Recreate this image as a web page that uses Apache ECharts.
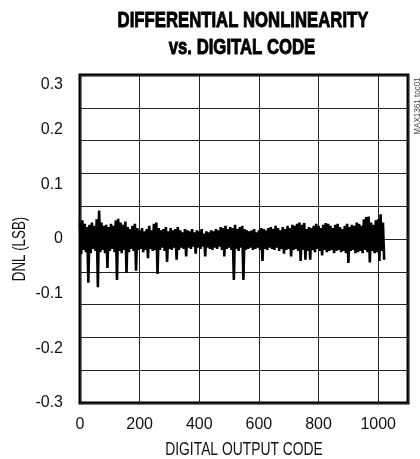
<!DOCTYPE html>
<html>
<head>
<meta charset="utf-8">
<script src="https://cdn.jsdelivr.net/npm/echarts@6/dist/echarts.min.js"></script>
<style>
html,body{margin:0;padding:0;background:#fff;}
#chart{width:420px;height:459px;}
</style>
</head>
<body>
<div id="chart"></div>
<script>
// Chart text
const titleLines = ['DIFFERENTIAL NONLINEARITY', 'vs. DIGITAL CODE'];
const xAxisName = 'DIGITAL OUTPUT CODE';
const yAxisName = 'DNL (LSB)';
const sideNote = 'MAX1361 toc01';

// Axis ranges / ticks
const xTicks = [0, 200, 400, 600, 800, 1000];
const yTicks = [-0.3, -0.2, -0.1, 0, 0.1, 0.2, 0.3];

// DNL: one upper and one lower excursion per 8 codes
const codeStep = 8;
const dnlHigh = [
  0.030, 0.034, 0.028, 0.022, 0.026, 0.030, 0.024, 0.036,
  0.052, 0.030, 0.024, 0.026, 0.022, 0.028, 0.024, 0.034,
  0.037, 0.030, 0.026, 0.032, 0.022, 0.018, 0.024, 0.028,
  0.020, 0.016, 0.020, 0.014, 0.018, 0.024, 0.016, 0.028,
  0.030, 0.020, 0.016, 0.018, 0.022, 0.014, 0.020, 0.016,
  0.018, 0.022, 0.016, 0.012, 0.018, 0.016, 0.014, 0.018,
  0.012, 0.016, 0.014, 0.018, 0.010, 0.014, 0.012, 0.016,
  0.014, 0.018, 0.016, 0.022, 0.020, 0.024, 0.018, 0.022,
  0.020, 0.026, 0.018, 0.022, 0.024, 0.018, 0.016, 0.014,
  0.016, 0.018, 0.012, 0.016, 0.020, 0.018, 0.016, 0.020,
  0.022, 0.018, 0.024, 0.020, 0.016, 0.022, 0.018, 0.024,
  0.020, 0.026, 0.024, 0.028, 0.030, 0.026, 0.029, 0.018,
  0.022, 0.020, 0.024, 0.028, 0.024, 0.020, 0.026, 0.029,
  0.028, 0.024, 0.020, 0.026, 0.028, 0.022, 0.018, 0.024,
  0.028, 0.022, 0.026, 0.024, 0.030, 0.028, 0.024, 0.036,
  0.040, 0.041, 0.030, 0.026, 0.034, 0.036, 0.045, 0.030
];
const dnlLow = [
  -0.028, -0.020, -0.024, -0.080, -0.026, -0.018, -0.022, -0.088,
  -0.024, -0.020, -0.026, -0.053, -0.022, -0.018, -0.024, -0.075,
  -0.022, -0.026, -0.020, -0.062, -0.024, -0.018, -0.022, -0.058,
  -0.020, -0.018, -0.024, -0.020, -0.035, -0.018, -0.022, -0.020,
  -0.064, -0.020, -0.016, -0.022, -0.042, -0.018, -0.020, -0.016,
  -0.038, -0.020, -0.016, -0.018, -0.032, -0.016, -0.018, -0.014,
  -0.027, -0.016, -0.018, -0.014, -0.032, -0.016, -0.018, -0.020,
  -0.016, -0.018, -0.014, -0.020, -0.032, -0.018, -0.016, -0.020,
  -0.075, -0.018, -0.022, -0.016, -0.075, -0.020, -0.018, -0.016,
  -0.020, -0.018, -0.016, -0.020, -0.040, -0.018, -0.020, -0.016,
  -0.018, -0.020, -0.016, -0.022, -0.018, -0.027, -0.020, -0.018,
  -0.032, -0.020, -0.018, -0.022, -0.040, -0.020, -0.038, -0.022,
  -0.038, -0.020, -0.024, -0.018, -0.022, -0.030, -0.020, -0.024,
  -0.022, -0.020, -0.026, -0.022, -0.020, -0.024, -0.022, -0.026,
  -0.044, -0.022, -0.020, -0.026, -0.024, -0.022, -0.026, -0.020,
  -0.024, -0.043, -0.022, -0.026, -0.024, -0.040, -0.022, -0.038
];

// Build the series: upper value at code 8i, lower at code 8i+4
const seriesData = [];
for (let i = 0; i < dnlHigh.length; i++) {
  seriesData.push([i * codeStep, dnlHigh[i]]);
  seriesData.push([i * codeStep + codeStep / 2, dnlLow[i]]);
}

const FONT = '"Liberation Sans", Arial, sans-serif';
const chart = echarts.init(document.getElementById('chart'), null, {renderer: 'canvas'});
chart.setOption({
  animation: false,
  backgroundColor: '#fff',
  grid: {
    left: 80, right: 12, top: 75, bottom: 56,
    show: true, borderColor: '#000', borderWidth: 3, backgroundColor: 'transparent'
  },
  xAxis: {
    type: 'value', min: 0, max: 1100, interval: 200,
    axisLine: {show: false}, axisTick: {show: false},
    axisLabel: {
      margin: 14, fontFamily: FONT, fontSize: 16, color: '#111',
      formatter: v => xTicks.includes(v) ? String(v) : ''
    },
    splitLine: {show: true, lineStyle: {color: '#222', width: 1}}
  },
  yAxis: [
    {
      type: 'value', min: -0.3, max: 0.3, interval: 0.1,
      axisLine: {show: false}, axisTick: {show: false},
      splitLine: {show: false},
      axisLabel: {
        margin: 17, fontFamily: FONT, fontSize: 16, color: '#111',
        formatter: v => {
          const t = yTicks.find(y => Math.abs(y - v) < 1e-9);
          if (t === undefined) return '';
          const s = String(t);
          return Math.abs(t - 0.3) < 1e-9 ? '{t|' + s + '}' : s;
        },
        rich: {t: {fontFamily: FONT, fontSize: 16, color: '#111', padding: [20, 0, 0, 0]}}
      }
    },
    {
      type: 'value', min: -0.3, max: 0.3, interval: 0.06, position: 'left',
      axisLine: {show: false}, axisTick: {show: false}, axisLabel: {show: false},
      splitLine: {show: true, lineStyle: {color: '#222', width: 1}}
    }
  ],
  graphic: [
    {
      type: 'text', x: 243, y: 21, scaleX: 0.76,
      style: {text: titleLines[0], fontFamily: FONT, fontWeight: 'bold', fontSize: 22, fill: '#000', stroke: '#000', lineWidth: 0.9, align: 'center', verticalAlign: 'middle'}
    },
    {
      type: 'text', x: 242, y: 48, scaleX: 0.76,
      style: {text: titleLines[1], fontFamily: FONT, fontWeight: 'bold', fontSize: 22, fill: '#000', stroke: '#000', lineWidth: 0.9, align: 'center', verticalAlign: 'middle'}
    },
    {
      type: 'text', x: 244, y: 450, scaleX: 0.77,
      style: {text: xAxisName, fontFamily: FONT, fontSize: 18, fill: '#111', align: 'center', verticalAlign: 'middle'}
    },
    {
      type: 'text', x: 20, y: 249, rotation: Math.PI / 2, scaleX: 0.74,
      style: {text: yAxisName, fontFamily: FONT, fontSize: 18, fill: '#111', align: 'center', verticalAlign: 'middle'}
    },
    {
      type: 'text', x: 417, y: 106, rotation: Math.PI / 2, scaleX: 0.85,
      style: {text: sideNote, fontFamily: FONT, fontSize: 9.5, fill: '#444', align: 'center', verticalAlign: 'middle'}
    }
  ],
  series: [{
    type: 'line', data: seriesData, yAxisIndex: 0,
    showSymbol: false, symbol: 'none', sampling: null,
    lineStyle: {color: '#000', width: 2.6},
    z: 5
  }]
});
</script>
</body>
</html>
